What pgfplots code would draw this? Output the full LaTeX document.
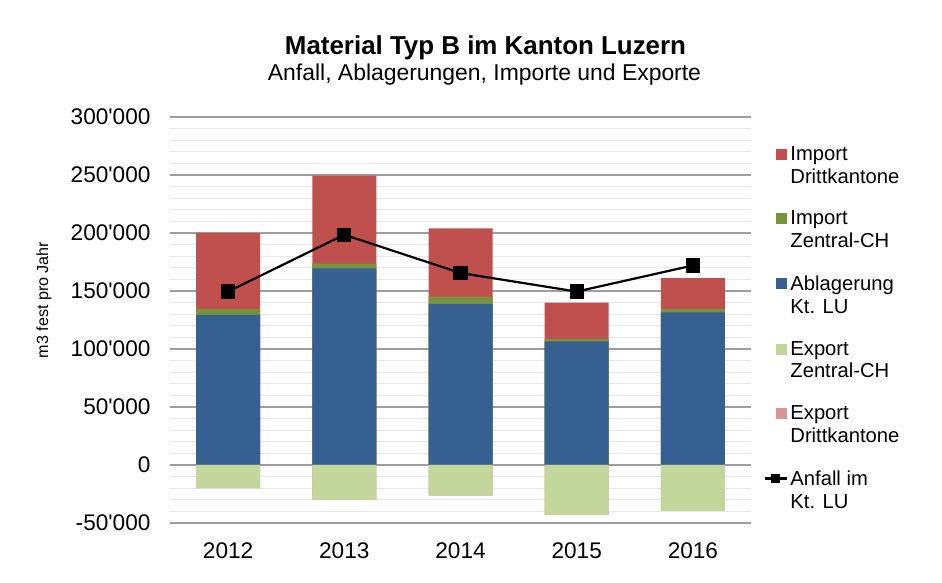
\documentclass[border=0pt]{standalone}
\usepackage{fontspec}
\setmainfont{Liberation Sans}
\newfontfamily\lib{Liberation Sans}
\usepackage{pgfplots}
\pgfplotsset{compat=1.18}
\usepackage{pgfplotstable}
\definecolor{cRed}{HTML}{C0504D}
\definecolor{cGreen}{HTML}{77933C}
\definecolor{cBlue}{HTML}{376092}
\definecolor{cLGreen}{HTML}{C3D69B}
\definecolor{cPink}{HTML}{D99694}

\pgfplotstableread{
x abl izch idk ezch edk anf
0 129500 5000 65500 -20000 0 149500
1 169500 4000 76000 -30000 0 198500
2 139000 6000 59000 -26500 0 165500
3 106500 2000 31500 -43000 0 149500
4 131500 3000 26500 -39500 0 172000
}\data

\begin{document}
\begin{tikzpicture}[x=1bp,y=1bp]
\path[use as bounding box] (0,0) rectangle (942,583);
\begin{axis}[
 at={(170bp,60bp)}, anchor=south west,
 scale only axis, width=581bp, height=406bp,
 xmin=-0.5, xmax=4.5, ymin=-50000, ymax=300000,
 xtick={0,...,4}, xticklabels={2012,2013,2014,2015,2016},
 ytick={-50000,0,50000,100000,150000,200000,250000,300000},
 yticklabels={-50'000,0,50'000,100'000,150'000,200'000,250'000,300'000},
 scaled y ticks=false,
 minor y tick num=4,
 ymajorgrids, yminorgrids,
 major grid style={draw=black!38, line width=1.1bp},
 minor grid style={draw=black!9, line width=1bp},
 axis line style={draw=none},
 tick style={draw=none},
 ticklabel style={font=\lib\fontsize{22.7}{27}\selectfont},
 yticklabel style={xshift=-16bp},
 xticklabel style={yshift=-16bp},
 extra y ticks={0}, extra y tick labels={},
 extra y tick style={grid style={draw=black, line width=1.2bp}},
 legend style={draw=none, fill=none, at={(1,1)}, anchor=north west,
   xshift=10bp, yshift=-25bp, font=\lib\fontsize{20.3}{23}\selectfont,
   row sep=22.4bp, nodes={inner sep=2bp, align=left}, cells={anchor=west}},
 legend cell align=left,
]
% bars (drawn from back to front)
\addplot[ybar, bar width=64bp, bar shift=0pt, fill=cRed, draw=none, forget plot]
  table[x=x, y expr=\thisrow{abl}+\thisrow{izch}+\thisrow{idk}] {\data};
\addplot[ybar, bar width=64bp, bar shift=0pt, fill=cGreen, draw=none, forget plot]
  table[x=x, y expr=\thisrow{abl}+\thisrow{izch}] {\data};
\addplot[ybar, bar width=64bp, bar shift=0pt, fill=cBlue, draw=none, forget plot]
  table[x=x, y=abl] {\data};
\addplot[ybar, bar width=64bp, bar shift=0pt, fill=cPink, draw=none, forget plot]
  table[x=x, y expr=\thisrow{ezch}+\thisrow{edk}] {\data};
\addplot[ybar, bar width=64bp, bar shift=0pt, fill=cLGreen, draw=none, forget plot]
  table[x=x, y=ezch] {\data};
% legend entries
\addlegendimage{legend image code/.code={\fill[cRed] (11bp,6.5bp) rectangle (21bp,16.5bp);}}
\addlegendentry{Import\\Drittkantone}
\addlegendimage{legend image code/.code={\fill[cGreen] (11bp,6.5bp) rectangle (21bp,16.5bp);}}
\addlegendentry{Import\\Zentral-CH}
\addlegendimage{legend image code/.code={\fill[cBlue] (11bp,6.5bp) rectangle (21bp,16.5bp);}}
\addlegendentry{Ablagerung\\Kt. LU}
\addlegendimage{legend image code/.code={\fill[cLGreen] (11bp,6.5bp) rectangle (21bp,16.5bp);}}
\addlegendentry{Export\\Zentral-CH}
\addlegendimage{legend image code/.code={\fill[cPink] (11bp,6.5bp) rectangle (21bp,16.5bp);}}
\addlegendentry{Export\\Drittkantone}
\addplot[black, line width=2.2bp, mark=square*, mark size=6bp, mark options={fill=black, solid},
  legend image code/.code={\draw[black,line width=2.2bp] (0bp,11.5bp)--(22bp,11.5bp); \fill[black] (7bp,8bp) rectangle (14bp,15bp);}]
  table[x=x, y=anf] {\data};
\addlegendentry{Anfall im\\Kt. LU}
\end{axis}
\node[font=\bfseries\fontsize{26}{30}\selectfont] at (485.5,535) {Material Typ B im Kanton Luzern};
\node[font=\fontsize{23}{27}\selectfont] at (484.5,508) {Anfall, Ablagerungen, Importe und Exporte};
\node[rotate=90, font=\fontsize{16.2}{20}\selectfont] at (44,283) {m3 fest pro Jahr};
\end{tikzpicture}
\end{document}
